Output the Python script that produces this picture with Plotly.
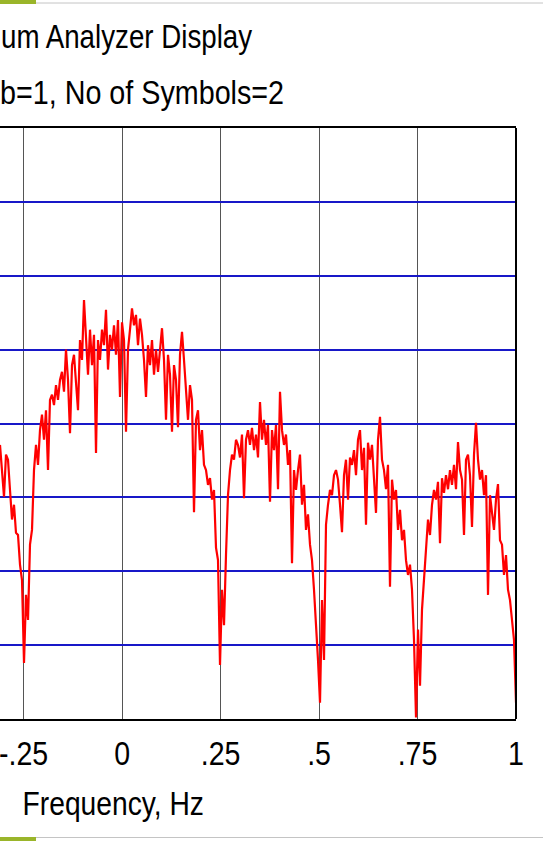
import numpy as np
import plotly.graph_objects as go

# Spectrum analyzer trace: power spectral density (dB) on a uniform frequency grid
F_START, F_STOP = -0.31, 1.0
psd_db = [
    -42.9, -46.3, -49.9, -44.2, -44.9, -49.0, -53.0, -51.0, -54.8, -55.1,
    -59.1, -61.2, -72.4, -63.2, -66.6, -56.4, -54.4, -46.3, -42.9, -45.6,
    -40.9, -38.8, -42.2, -38.2, -46.3, -36.8, -36.1, -37.5, -34.8, -36.8,
    -34.1, -33.0, -35.7, -30.0, -34.1, -41.3, -32.1, -30.7, -34.8, -38.2,
    -28.7, -31.4, -23.3, -29.4, -33.4, -27.3, -32.1, -28.0, -44.0, -28.7,
    -31.4, -27.3, -29.4, -24.6, -32.7, -28.0, -30.0, -26.7, -30.7, -26.0,
    -36.4, -26.3, -28.7, -41.1, -30.0, -27.3, -24.4, -26.7, -25.3, -29.4,
    -25.8, -28.0, -31.4, -36.4, -29.4, -32.1, -28.7, -33.4, -30.0, -33.0,
    -29.4, -27.1, -31.4, -39.5, -30.7, -33.4, -41.1, -32.1, -34.1, -40.5,
    -30.7, -27.6, -31.4, -36.1, -39.5, -34.8, -36.8, -52.0, -39.5, -38.2,
    -43.6, -40.9, -45.6, -46.3, -48.3, -47.4, -50.3, -49.0, -56.8, -58.5,
    -72.7, -62.5, -67.3, -57.8, -49.7, -46.3, -44.2, -44.9, -42.2, -42.9,
    -44.6, -41.5, -50.1, -42.2, -40.9, -42.9, -40.6, -43.6, -41.5, -44.6,
    -37.1, -42.2, -39.5, -42.9, -40.2, -50.6, -40.9, -43.6, -40.2, -48.9,
    -35.7, -40.9, -42.9, -41.5, -45.6, -43.6, -58.9, -46.3, -49.0, -46.3,
    -44.2, -51.0, -48.3, -54.4, -52.3, -56.4, -58.5, -62.5, -66.6, -72.0,
    -77.8, -63.9, -72.0, -53.7, -51.0, -49.0, -49.7, -47.0, -46.3, -47.6,
    -51.0, -54.7, -47.0, -44.9, -50.3, -44.6, -45.6, -43.6, -47.0, -42.2,
    -40.9, -46.3, -43.3, -53.7, -42.6, -44.9, -42.9, -47.0, -52.1, -42.2,
    -39.1, -44.9, -46.3, -48.9, -45.6, -62.1, -47.6, -50.3, -49.0, -54.4,
    -51.7, -55.8, -54.4, -58.5, -60.5, -59.1, -62.5, -69.3, -79.8, -67.9,
    -75.5, -65.2, -61.2, -55.8, -53.0, -55.1, -51.0, -49.0, -50.3, -47.9,
    -56.2, -47.4, -49.4, -47.0, -48.9, -46.3, -48.3, -45.6, -48.9, -42.5,
    -46.3, -47.6, -55.1, -44.9, -44.2, -47.0, -54.0, -44.2, -39.9, -44.9,
    -47.6, -46.3, -49.7, -47.0, -63.2, -49.7, -51.7, -54.4, -50.3, -48.2,
    -55.8, -56.4, -60.5, -57.8, -62.5, -63.9, -66.6, -69.3, -77.8,
]
freq_hz = np.linspace(F_START, F_STOP, len(psd_db))

# Axis ticks
x_tickvals = [-0.25, 0, 0.25, 0.5, 0.75, 1]
x_ticktext = ["-.25", "0", ".25", ".5", ".75", "1"]
y_range = [-80, 0]
y_step = 10

title_line1 = "um Analyzer Display"
title_line2 = "b=1, No of Symbols=2"
x_title = "Frequency, Hz"

W, H = 543, 841
ML, MR, MT, MB = 0, 27, 128, 122
PW, PH = W - ML - MR, H - MT - MB
FONT = "Liberation Sans, Arial, sans-serif"


def px_x(px):
    return (px - ML) / PW


def px_y(py):
    return (H - MB - py) / PH


fig = go.Figure()
fig.add_trace(go.Scatter(
    x=freq_hz, y=psd_db, mode="lines",
    line=dict(color="#ff0000", width=2.2),
    hoverinfo="x+y", showlegend=False,
))

fig.update_layout(
    width=W, height=H, autosize=False,
    margin=dict(l=ML, r=MR, t=MT, b=MB, pad=0, autoexpand=False),
    paper_bgcolor="white", plot_bgcolor="white",
    font=dict(family=FONT, color="black"),
    xaxis=dict(
        range=[F_START, F_STOP], tickvals=x_tickvals, ticktext=x_ticktext,
        automargin=False,
        showgrid=True, gridcolor="#555555", gridwidth=1,
        zeroline=False, showline=True, linecolor="black", linewidth=2, mirror=True,
        ticks="outside", ticklen=3, tickcolor="rgba(0,0,0,0)",
        ticklabeloverflow="allow",
        tickfont=dict(family=FONT, size=34, color="black"),
    ),
    yaxis=dict(
        range=y_range, dtick=y_step, tick0=0, side="right",
        automargin=False,
        showgrid=True, gridcolor="#1818c8", gridwidth=2,
        zeroline=False, showline=False,
        showticklabels=False, ticks="",
    ),
    annotations=[
        dict(text=title_line1, xref="paper", yref="paper", x=px_x(-1), y=px_y(36),
             xanchor="left", yanchor="middle", showarrow=False,
             font=dict(family=FONT, size=33, color="black")),
        dict(text=title_line2, xref="paper", yref="paper", x=px_x(-2), y=px_y(92),
             xanchor="left", yanchor="middle", showarrow=False,
             font=dict(family=FONT, size=33, color="black")),
        dict(text=x_title, xref="paper", yref="paper", x=px_x(113), y=px_y(803),
             xanchor="center", yanchor="middle", showarrow=False,
             font=dict(family=FONT, size=34, color="black")),
    ],
    shapes=[
        # right-hand frame edge of the plot area
        dict(type="line", xref="paper", yref="paper", x0=1, x1=1, y0=0, y1=1,
             line=dict(color="black", width=2), layer="above"),
        # slide decoration: accent bars and rules at top and bottom
        dict(type="rect", xref="paper", yref="paper", x0=px_x(0), x1=px_x(36),
             y0=px_y(0), y1=px_y(4), fillcolor="#9ab52a", line=dict(width=0), layer="above"),
        dict(type="line", xref="paper", yref="paper", x0=px_x(36), x1=px_x(543),
             y0=px_y(3), y1=px_y(3), line=dict(color="#c4c4c4", width=1), layer="above"),
        dict(type="rect", xref="paper", yref="paper", x0=px_x(0), x1=px_x(36),
             y0=px_y(837), y1=px_y(841), fillcolor="#9ab52a", line=dict(width=0), layer="above"),
        dict(type="line", xref="paper", yref="paper", x0=px_x(36), x1=px_x(543),
             y0=px_y(837.5), y1=px_y(837.5), line=dict(color="#c4c4c4", width=1), layer="above"),
    ],
)

# Narrow-face look: horizontally condense the rendered SVG text in place.
condense_js = """
var gd = document.getElementById('{plot_id}');
function condense(sel, k, keepLeft) {
  gd.querySelectorAll(sel).forEach(function (t) {
    var L = t.getComputedTextLength();
    if (!L) return;
    var b0 = t.getBBox();
    t.setAttribute('textLength', (L * k).toFixed(2));
    t.setAttribute('lengthAdjust', 'spacingAndGlyphs');
    if (keepLeft) {
      var b1 = t.getBBox();
      t.setAttribute('x', parseFloat(t.getAttribute('x') || 0) + (b0.x - b1.x));
    }
  });
}
condense('.annotation[data-index="0"] .annotation-text', 0.84, true);
condense('.annotation[data-index="1"] .annotation-text', 0.87, true);
condense('.annotation[data-index="2"] .annotation-text', 0.83, false);
condense('.xtick text', 0.84, false);
"""

fig.write_html("out.html", post_script=condense_js)
